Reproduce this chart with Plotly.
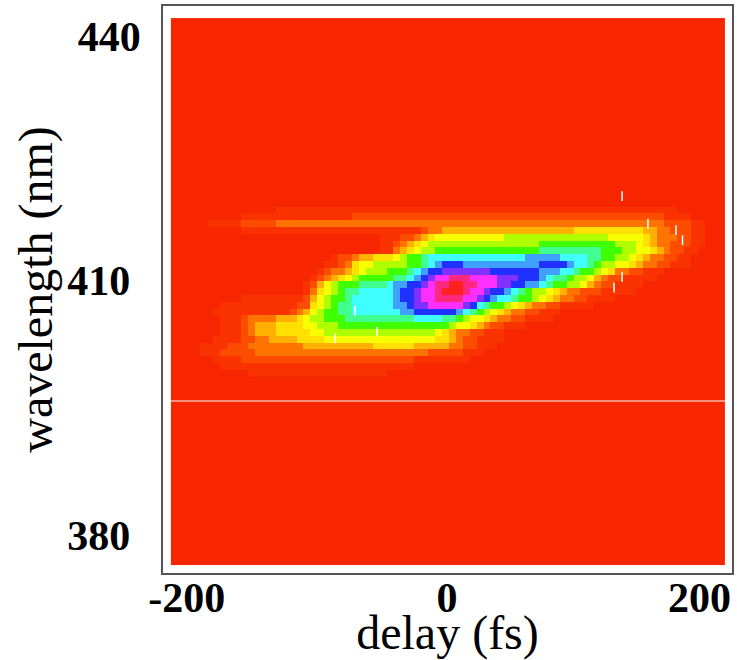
import plotly.graph_objects as go

# Colour levels used by the spectrogram cells
level_colors = ["#F82600", "#FA3200", "#FC4C00", "#FF7400", "#FFB000", "#FFE000", "#F8FF00", "#B0FF00",
                "#40FF00", "#40FF90", "#40FFFF", "#40A0FF", "#2030FF", "#8030FF", "#FF30FF", "#FF2880", "#FF2020"]
level_digits = "0123456789abcdefg"

# Signal intensity (one character per cell, level_digits index)
signal_rows = [
    "0000000000 0000011111 1111111111 1111111111 1111111111 1111111111 1111111111 1110000000",
    "0000000000 1111111111 1111112222 2222222222 2222222222 2222222222 2222222222 2111100000",
    "0000011111 2222233333 3333333333 3333333333 3333333333 3333333333 3333333333 3222211000",
    "0000000000 1111111111 1111111111 1111112334 4444444444 4444444455 5555555544 3322211000",
    "0000000000 0000000000 0000000000 1112234566 6666666677 7777777777 7776666654 3332211000",
    "0000000000 0000000000 0000000000 1123456777 7777777777 7778888888 8888777654 3322211000",
    "0000000000 0000000000 0000000000 1134567788 8888888888 8889999999 9988877665 4322110000",
    "0000000000 0000000000 0001223445 5567889aaa aaaaaaaaaa abbbbbaaaa 9988776543 3221100000",
    "0000000000 0000000000 0011235667 7777889abc ccbbbbbbbb bbbccccbaa 9877665433 2211100000",
    "0000000000 0000000000 0123345677 78889abccd ddddddcccc cccbbbaa98 8765332211 1000000000",
    "0000000000 0000000000 1234567888 8899abcdee fffeeeeddd cccba99877 6432211111 0000000000",
    "0000000000 0000000001 2467888999 9abbccdeff ggffeeeddc cbba988776 4322111100 0000000000",
    "0000000000 0000000001 3567899aaa aabccdeefg ggfeedccba 9877654332 2211111000 0000000000",
    "0000000000 1111111112 467889aaaa aabccdeeff ffeedcbaa9 8876543322 1111000000 0000000000",
    "0000000111 1111111122 567899aaaa aabbcddeee eedca98876 5433221111 1000000000 0000000000",
    "0000001111 1111111234 678899aaaa aaabbccccc cba9876543 3221110000 0000000000 0000000000",
    "0000000111 2333344456 7788899999 99999aaaa9 9876654332 2111100000 0000000000 0000000000",
    "0000000111 2344455556 6777888888 8888888888 7665432211 1000000000 0000000000 0000000000",
    "0000000111 2344455555 6677777777 7777777765 4332211100 0000000000 0000000000 0000000000",
    "0000001111 2233444455 5566666666 6666666655 4322111100 0000000000 0000000000 0000000000",
    "0000111122 2333333334 4444444445 5555544444 3322111000 0000000000 0000000000 0000000000",
    "0000111222 2233333333 3333333333 3333333222 2211100000 0000000000 0000000000 0000000000",
    "0000001111 2222222222 2222222222 2222211111 1110000000 0000000000 0000000000 0000000000",
    "0000000111 1111111111 1111111111 1111100000 0000000000 0000000000 0000000000 0000000000",
    "0000000000 0111111111 1111111111 1000000000 0000000000 0000000000 0000000000 0000000000",
]

x_tick_values = [-204, 0, 198]
x_tick_labels = ["-200", "0", "200"]
y_tick_values = [440.24, 410.84, 380.24]
y_tick_labels = ["440", "410\u00a0", "380\u00a0"]

speck_delay = [137.3, 157.6, 179.6, 184.7, 137.3, 131, -72.2, -54.9, -87.8]
speck_wavelength = [421.0, 417.7, 416.9, 415.7, 411.3, 410.0, 407.2, 404.7, 403.9]

px_per_fs = 1.275
px_per_nm = 8.32
grid_delay_start = -215.7
grid_delay_step = 6.92 / px_per_fs
grid_wl_start = 419.73
grid_wl_step = 6.8 / px_per_nm

z = [[level_digits.index(c) for c in row.replace(" ", "")[:79]] for row in signal_rows]
x_edges = [grid_delay_start + grid_delay_step * i for i in range(len(z[0]) + 1)]
y_edges = [grid_wl_start - grid_wl_step * j for j in range(len(z) + 1)]

zmax = len(level_colors) - 1
scale = [[i / zmax, c] for i, c in enumerate(level_colors)]
serif = "Liberation Serif"

fig = go.Figure()
fig.add_trace(go.Heatmap(x=[-216.5, 218], y=[376.7, 442.4], z=[[0]], zmin=0, zmax=zmax,
                         colorscale=scale, showscale=False, hoverinfo="skip"))
fig.add_trace(go.Heatmap(x=x_edges, y=y_edges, z=z, zmin=0, zmax=zmax,
                         colorscale=scale, showscale=False, zsmooth=False))
fig.add_trace(go.Scatter(x=speck_delay, y=speck_wavelength, mode="markers", showlegend=False,
                         marker=dict(symbol="line-ns", size=7, color="white",
                                     line=dict(color="white", width=1.5))))
fig.add_shape(type="line", x0=-216.5, x1=218, y0=396.37, y1=396.37, line=dict(color="white", width=1))

fig.update_layout(
    width=737, height=660, margin=dict(l=163, r=5, t=6, b=87),
    paper_bgcolor="white", plot_bgcolor="white", showlegend=False,
    xaxis=dict(range=[-222.7, 223.5], tickvals=x_tick_values, ticktext=x_tick_labels, ticks="",
               ticklabelstandoff=-13, automargin=False,
               tickfont=dict(family=serif, size=42, color="black", weight="bold"),
               showgrid=False, zeroline=False, showline=True, mirror=True, linecolor="#555", linewidth=1.5,
               title=dict(text="delay (fs)", font=dict(family=serif, size=48, color="black"), standoff=0)),
    yaxis=dict(range=[375.7, 443.85], tickvals=y_tick_values, ticktext=y_tick_labels, ticks="",
               ticklabelstandoff=12, automargin=False,
               tickfont=dict(family=serif, size=42, color="black", weight="bold"),
               showgrid=False, zeroline=False, showline=True, mirror=True, linecolor="#555", linewidth=1.5,
               title=dict(text="\u00a0wavelength (nm)", font=dict(family=serif, size=48, color="black"), standoff=0)),
)
fig.write_html("out.html", post_script="document.body.style.margin='0';", config={"displayModeBar": False})
